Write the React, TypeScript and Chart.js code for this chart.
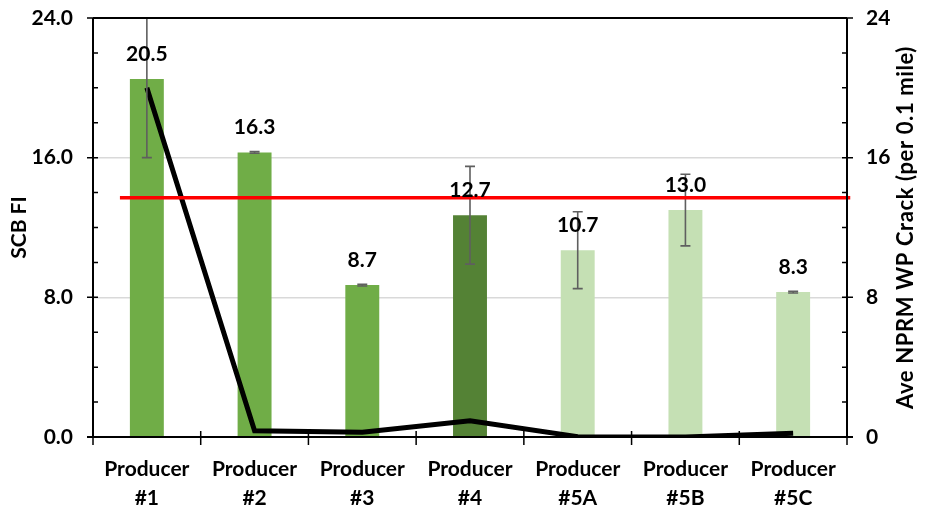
import React, { useEffect, useRef } from "react";
import { Chart, registerables } from "chart.js";

Chart.register(...registerables);

const categories: string[][] = [
  ["Producer", "#1"],
  ["Producer", "#2"],
  ["Producer", "#3"],
  ["Producer", "#4"],
  ["Producer", "#5A"],
  ["Producer", "#5B"],
  ["Producer", "#5C"],
];
const scbFI: number[] = [20.5, 16.3, 8.7, 12.7, 10.7, 13.0, 8.3];
const scbErr: number[] = [4.5, 0.05, 0.05, 2.8, 2.2, 2.05, 0.05];
const barColors: string[] = ["#70AD47", "#70AD47", "#70AD47", "#548235", "#C5E0B4", "#C5E0B4", "#C5E0B4"];
const crackAvg: number[] = [20.0, 0.36, 0.27, 0.93, 0.02, 0.0, 0.21];
const threshold: number[] = [13.7];
const thresholdSpan: number[] = [-0.25, 6.53];
const leftTicks: number[] = [0, 8, 16, 24];
const rightTitle = "Ave NPRM WP Crack (per 0.1 mile)";

const FONT = "Lato, 'Open Sans', sans-serif";
const FS = 21;

const overlay = {
  id: "overlay",
  afterDatasetsDraw(chart: any) {
    const ctx = chart.ctx;
    const x = chart.scales.x;
    const y = chart.scales.y;
    const y1 = chart.scales.y1;
    const ca = chart.chartArea;
    ctx.save();
    ctx.beginPath();
    ctx.rect(ca.left, ca.top - 1, ca.right - ca.left, ca.bottom - ca.top + 2);
    ctx.clip();
    ctx.strokeStyle = "#5f5f5f";
    ctx.lineWidth = 1.6;
    scbFI.forEach((v, i) => {
      const px = x.getPixelForValue(i);
      const yt = y.getPixelForValue(v + scbErr[i]);
      const yb = y.getPixelForValue(v - scbErr[i]);
      ctx.beginPath();
      ctx.moveTo(px, yt);
      ctx.lineTo(px, yb);
      ctx.moveTo(px - 5, yt);
      ctx.lineTo(px + 5, yt);
      ctx.moveTo(px - 5, yb);
      ctx.lineTo(px + 5, yb);
      ctx.stroke();
    });
    ctx.restore();

    ctx.save();
    ctx.strokeStyle = "#FF0000";
    ctx.lineWidth = 3.5;
    const ty = y.getPixelForValue(threshold[0]);
    ctx.beginPath();
    ctx.moveTo(x.getPixelForValue(thresholdSpan[0]), ty);
    ctx.lineTo(x.getPixelForValue(thresholdSpan[1]), ty);
    ctx.stroke();

    ctx.strokeStyle = "#000";
    ctx.lineWidth = 2;
    ctx.beginPath();
    ctx.moveTo(ca.left, ca.top);
    ctx.lineTo(ca.right, ca.top);
    ctx.moveTo(ca.left, ca.top);
    ctx.lineTo(ca.left, ca.bottom);
    ctx.moveTo(ca.right, ca.top);
    ctx.lineTo(ca.right, ca.bottom);
    ctx.moveTo(ca.left - 6, ca.bottom);
    ctx.lineTo(ca.right + 6, ca.bottom);
    ctx.stroke();
    ctx.lineWidth = 1.5;
    ctx.beginPath();
    for (let v = 0; v <= 24; v += 2) {
      const py = y.getPixelForValue(v);
      const major = v % 8 === 0;
      ctx.moveTo(ca.left - (major ? 6 : 0), py);
      ctx.lineTo(ca.left + 5, py);
      const py1 = y1.getPixelForValue(v);
      ctx.moveTo(ca.right - 5, py1);
      ctx.lineTo(ca.right + (major ? 6 : 0), py1);
    }
    for (let i = 0; i <= categories.length; i++) {
      const px = x.getPixelForValue(i - 0.5);
      ctx.moveTo(px, ca.bottom - 6);
      ctx.lineTo(px, ca.bottom + 8);
    }
    ctx.stroke();

    ctx.fillStyle = "#000";
    ctx.font = `bold ${FS}px ${FONT}`;
    ctx.textAlign = "center";
    ctx.textBaseline = "middle";
    scbFI.forEach((v, i) => {
      const px = x.getPixelForValue(i);
      const py = y.getPixelForValue(v);
      ctx.fillText(v.toFixed(1), px, py - 25);
    });

    // right axis title, reading bottom-to-top
    ctx.translate(906, (ca.top + ca.bottom) / 2);
    ctx.rotate(-Math.PI / 2);
    ctx.font = `bold 22px ${FONT}`;
    try {
      (ctx as any).letterSpacing = "0.6px";
    } catch (e) {}
    ctx.fillText(rightTitle, 0, 0);
    ctx.restore();
  },
};

export default function App() {
  const ref = useRef<HTMLCanvasElement>(null);
  useEffect(() => {
    document.body.style.margin = "0";
    const chart = new Chart(ref.current!, {
      type: "bar",
      data: {
        labels: categories,
        datasets: [
          {
            type: "line",
            label: "Ave NPRM WP Crack",
            data: crackAvg,
            yAxisID: "y1",
            borderColor: "#000",
            borderWidth: 5,
            pointRadius: 0,
            tension: 0,
            order: 0,
          } as any,
          {
            type: "bar",
            label: "SCB FI",
            data: scbFI,
            yAxisID: "y",
            backgroundColor: barColors,
            barPercentage: 0.315,
            categoryPercentage: 1,
            order: 1,
          },
        ],
      },
      options: {
        responsive: false,
        animation: false,
        devicePixelRatio: 1,
        layout: { autoPadding: false, padding: { top: 18, left: 0, right: 0, bottom: 0 } },
        plugins: { legend: { display: false }, tooltip: { enabled: false } },
        scales: {
          x: {
            grid: { display: false, drawTicks: false },
            border: { display: false },
            ticks: {
              color: "#000",
              font: { family: FONT, size: FS, weight: "bold", lineHeight: 1.38 },
              padding: 18,
              maxRotation: 0,
              autoSkip: false,
            },
            afterFit: (s: any) => {
              s.height = 71;
              s.paddingLeft = 0;
              s.paddingRight = 0;
              s.paddingTop = 0;
              s.paddingBottom = 0;
            },
          },
          y: {
            position: "left",
            min: 0,
            max: 24,
            grid: {
              drawTicks: false,
              lineWidth: 1.5,
              color: (c: any) => {
                const v = c.tick.value;
                return v % 8 === 0 && v > 0 && v < 24 ? "#d9d9d9" : "rgba(0,0,0,0)";
              },
            },
            border: { display: false },
            ticks: {
              stepSize: 2,
              autoSkip: false,
              color: "#000",
              padding: 20,
              font: { family: FONT, size: FS, weight: "bold" },
              callback: (v: any) => (leftTicks.includes(Number(v)) ? Number(v).toFixed(1) : ""),
            },
            title: {
              display: true,
              text: "SCB FI",
              color: "#000",
              font: { family: FONT, size: FS, weight: "bold" },
              padding: { top: 7, bottom: 0 },
            },
            afterFit: (s: any) => {
              s.width = 93;
              s.paddingTop = 0;
              s.paddingBottom = 0;
            },
          },
          y1: {
            position: "right",
            min: 0,
            max: 24,
            grid: { display: false, drawTicks: false },
            border: { display: false },
            ticks: {
              stepSize: 2,
              autoSkip: false,
              color: "#000",
              padding: 19,
              font: { family: FONT, size: FS, weight: "bold" },
              callback: (v: any) => (leftTicks.includes(Number(v)) ? String(v) : ""),
            },
            title: { display: false },
            afterFit: (s: any) => {
              s.width = 79;
              s.paddingTop = 0;
              s.paddingBottom = 0;
            },
          },
        },
      },
      plugins: [overlay],
    });
    return () => chart.destroy();
  }, []);
  return (
    <div style={{ width: 926, height: 508 }}>
      <canvas ref={ref} width={926} height={508} />
    </div>
  );
}
